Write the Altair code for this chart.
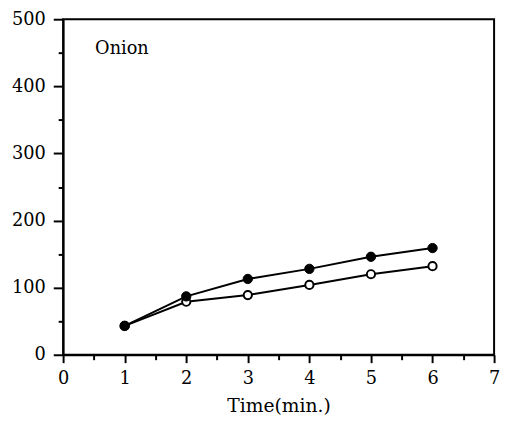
import altair as alt
import pandas as pd

time = [1, 2, 3, 4, 5, 6]
filled_vals = [43, 87, 113, 128, 146, 159]
open_vals = [43, 79, 89, 104, 120, 132]
x_major = [0, 1, 2, 3, 4, 5, 6, 7]
x_minor = [0.5, 1.5, 2.5, 3.5, 4.5, 5.5, 6.5]
y_major = [0, 100, 200, 300, 400, 500]
y_minor = [50, 150, 250, 350, 450]

df = pd.DataFrame({
    "time": time * 2,
    "value": filled_vals + open_vals,
    "series": ["filled"] * 6 + ["open"] * 6,
})

FONT = "DejaVu Serif"
xs = alt.Scale(domain=[0, 7], nice=False)
ys = alt.Scale(domain=[0, 500], nice=False)

x_axis = alt.Axis(values=x_major, title="Time(min.)", grid=False, tickSize=8, tickWidth=2,
                  tickColor="black", domainColor="black", domainWidth=2,
                  titleFont=FONT, titleFontSize=19, titleFontWeight="normal",
                  titleColor="black", titlePadding=10, orient="bottom")
y_axis = alt.Axis(values=y_major, title=None, grid=False, tickSize=10, tickWidth=2,
                  tickColor="black", domainColor="black", domainWidth=2, orient="left")

x_axis_minor = alt.Axis(values=x_minor, title=None, labels=False, grid=False, tickSize=5,
                        tickWidth=2, tickColor="black", domain=False, orient="bottom")
y_axis_minor = alt.Axis(values=y_minor, title=None, labels=False, grid=False, tickSize=5,
                        tickWidth=2, tickColor="black", domain=False, orient="left")

base = alt.Chart(df)

lines = base.mark_line(color="black", strokeWidth=2).encode(
    x=alt.X("time:Q", scale=xs, axis=x_axis),
    y=alt.Y("value:Q", scale=ys, axis=y_axis),
    detail="series:N",
)

pts_open = base.transform_filter(alt.datum.series == "open").mark_point(
    shape="circle", filled=True, fill="white", stroke="black", strokeWidth=2, size=70, opacity=1
).encode(
    x=alt.X("time:Q", scale=xs, axis=x_axis_minor),
    y=alt.Y("value:Q", scale=ys, axis=y_axis_minor),
)

pts_filled = base.transform_filter(alt.datum.series == "filled").mark_point(
    shape="circle", filled=True, fill="black", stroke="black", strokeWidth=1, size=90, opacity=1
).encode(
    x=alt.X("time:Q", scale=xs, axis=None),
    y=alt.Y("value:Q", scale=ys, axis=None),
)

label = alt.Chart(pd.DataFrame({"x": [0.52], "y": [455], "t": ["Onion"]})).mark_text(
    align="left", baseline="middle", font=FONT, fontSize=18, color="black"
).encode(
    x=alt.X("x:Q", scale=xs, axis=None),
    y=alt.Y("y:Q", scale=ys, axis=None),
    text="t:N",
)

chart = alt.layer(lines, pts_open, pts_filled, label).resolve_axis(
    x="independent", y="independent"
).properties(
    width=438, height=341,
    autosize=alt.AutoSizeParams(type="none"),
    padding={"left": 56, "top": 8, "right": 6, "bottom": 70},
).configure_view(stroke="black", strokeWidth=2).configure_axis(
    labelFont=FONT, labelFontSize=18, labelColor="black", labelFlush=False,
).configure_axisX(labelPadding=7).configure_axisY(labelPadding=8)

chart.save("out.html", embed_options={"renderer": "svg", "actions": False})
